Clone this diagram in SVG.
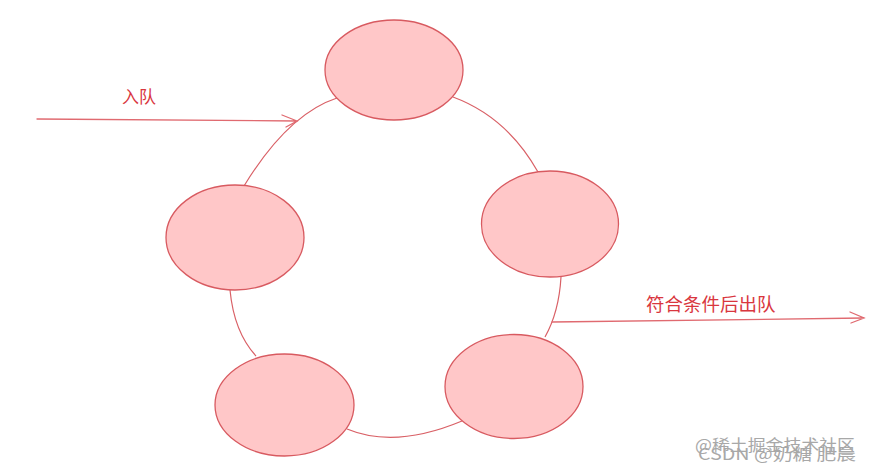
<svg xmlns="http://www.w3.org/2000/svg" width="871" height="472" viewBox="0 0 871 472">
<style>
.node{fill:#ffc7c8;stroke:#d85a60;stroke-width:1.3}
.ring{fill:none;stroke:#d96066;stroke-width:1.2}
.arrow{fill:none;stroke:#e06a70;stroke-width:1.3;stroke-linecap:round}
.lbl{font-family:"Noto Sans CJK SC","Liberation Sans",sans-serif;font-size:17px;fill:#d9363e}
.wm{font-family:"Noto Sans CJK SC","Liberation Sans",sans-serif;font-size:16px;fill:#a8a8a8}
</style>
<rect width="871" height="472" fill="#ffffff"/>
<g id="connectors">
<path class="ring" d="M337,98 Q288,114 244,186"/>
<path class="ring" d="M453,97 Q507,117 538,172"/>
<path class="ring" d="M230,290 Q234,332 256,356"/>
<path class="ring" d="M561,277 Q559,312 545,337"/>
<path class="ring" d="M347,429 Q395,449 462,421"/>
<path class="arrow" d="M37,119 L297,121 M282,115 L297,121 L286,127"/>
<path class="arrow" d="M552,322 L864,318 M850,312 L864,318 L851,323"/>
</g>
<g id="n-top"><ellipse class="node" cx="394" cy="70" rx="69" ry="50"/></g>
<g id="n-left"><ellipse class="node" cx="235" cy="237.5" rx="69" ry="52.5"/></g>
<g id="n-right"><ellipse class="node" cx="550" cy="224" rx="68.5" ry="53"/></g>
<g id="n-bottom-left"><ellipse class="node" cx="284.5" cy="405" rx="69.5" ry="51"/></g>
<g id="n-bottom-right"><ellipse class="node" cx="514" cy="386.5" rx="69" ry="52"/></g>
<g id="labels">
<text class="lbl" x="122" y="103">入队</text>
<text class="lbl" x="646" y="311" style="font-size:18.5px">符合条件后出队</text>
</g>
<g id="watermark">
<text class="wm" x="695" y="451" textLength="160" lengthAdjust="spacingAndGlyphs">@稀土掘金技术社区</text>
<text class="wm" x="698" y="460" textLength="158" lengthAdjust="spacingAndGlyphs">CSDN @奶糖 肥晨</text>
</g>
</svg>
